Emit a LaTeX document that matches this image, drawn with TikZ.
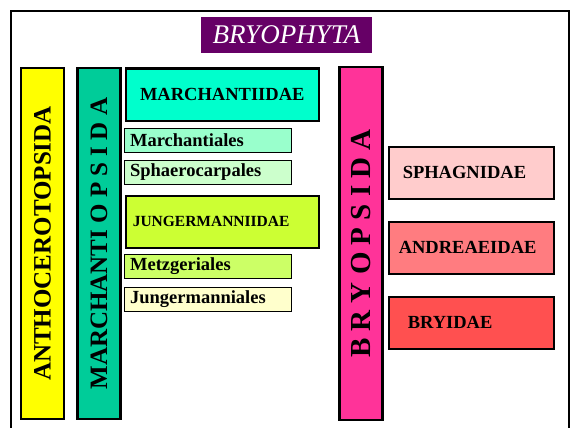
\documentclass[tikz,border=0pt]{standalone}
\usepackage{fontspec}
\setmainfont{Liberation Serif}
\usepackage{tikz}
\usepackage{xcolor}
\definecolor{titlepurple}{HTML}{660066}
\definecolor{anthoyellow}{HTML}{FFFF00}
\definecolor{marchteal}{HTML}{00CC99}
\definecolor{marchaqua}{HTML}{00FFCC}
\definecolor{marchmint}{HTML}{99FFCC}
\definecolor{sphaeromint}{HTML}{CCFFCC}
\definecolor{jungerlime}{HTML}{CCFF33}
\definecolor{metzlime}{HTML}{CCFF66}
\definecolor{jungercream}{HTML}{FFFFCC}
\definecolor{bryopink}{HTML}{FF3399}
\definecolor{sphagrose}{HTML}{FFCCCC}
\definecolor{andrsalmon}{HTML}{FF7C80}
\definecolor{bryired}{HTML}{FF5050}

\begin{document}
\begin{tikzpicture}[x=1pt, y=-1pt,
  bar/.style={draw, line width=2.5pt, rotate=90, minimum height=43pt, inner sep=0pt,
    font=\bfseries\fontsize{25}{28}\selectfont},
  subclass/.style={draw, line width=2.5pt, anchor=north west, minimum height=52pt,
    align=left, font=\bfseries\fontsize{18.5}{20}\selectfont},
  order/.style={draw, line width=1.2pt, anchor=north west, minimum height=24.5pt,
    inner xsep=6pt, text width=155pt, align=left, font=\bfseries\fontsize{18.5}{20}\selectfont}]
  \useasboundingbox (0,0) rectangle (573,428);
  % frame and title
  \draw[line width=2pt] (11,11) rectangle (569,450);
  \node[fill=titlepurple, text=white, minimum width=171pt, minimum height=36pt,
    font=\itshape\fontsize{27}{30}\selectfont] (bryophyta) at (286.5,35) {BRYOPHYTA};
  % classes
  \node[bar, fill=anthoyellow, minimum width=351pt] (anthoceros) at (42.5,243.5) {ANTHOCEROTOPSIDA};
  \node[bar, fill=marchteal, minimum width=351pt] (marchantio) at (99,243.5) {MARCHANTI O P S I D A};
  \node[bar, fill=bryopink, minimum width=353pt, font=\bfseries\fontsize{29}{32}\selectfont]
    (bryopsida) at (361,243.5) {B R Y O P S I D A};
  % Marchantiopsida
  \node[subclass, fill=marchaqua, minimum width=193pt] (marchantiidae) at (124.5,67.5) {MARCHANTIIDAE};
  \node[order, fill=marchmint] (marchantiales) at (123.5,127.5) {Marchantiales};
  \node[order, fill=sphaeromint] (sphaerocarpales) at (123.5,159.5) {Sphaerocarpales};
  \node[subclass, fill=jungerlime, inner xsep=7pt, text width=179pt,
    font=\bfseries\fontsize{15.5}{17}\selectfont] (jungermanniidae) at (124.5,194.5) {JUNGERMANNIIDAE};
  \node[order, fill=metzlime] (metzgeriales) at (123.5,253.5) {Metzgeriales};
  \node[order, fill=jungercream] (jungermanniales) at (123.5,286.5) {Jungermanniales};
  % Bryopsida
  \node[subclass, fill=sphagrose, inner xsep=14pt, text width=137pt] (sphagnidae) at (387.5,145.5) {SPHAGNIDAE};
  \node[subclass, fill=andrsalmon, inner xsep=10pt, text width=145pt] (andreaeidae) at (387.5,220.5) {ANDREAEIDAE};
  \node[subclass, fill=bryired, inner xsep=19pt, text width=127pt] (bryidae) at (387.5,295.5) {BRYIDAE};
\end{tikzpicture}
\end{document}
